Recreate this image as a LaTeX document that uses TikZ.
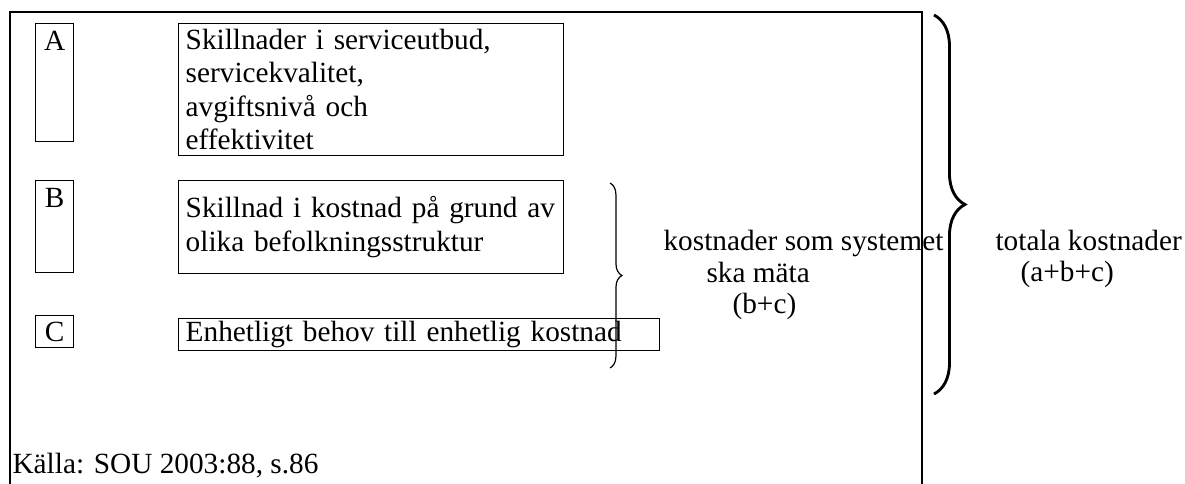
\documentclass[tikz,border=0pt]{standalone}
\usepackage{fontspec}
\setmainfont{Liberation Serif}
\usetikzlibrary{decorations.pathreplacing}
\tikzset{
  txt/.style={font=\fontsize{12.3pt}{14pt}\selectfont, inner sep=0pt},
  letterbox/.style={txt, draw, anchor=north west, minimum width=16pt, text height=11.5pt},
  textbox/.style={txt, draw, anchor=north west, align=left, inner xsep=3pt, inner ysep=1pt},
}
\begin{document}
\begin{tikzpicture}[x=0.42pt, y=-0.42pt, line width=0.5pt]
\useasboundingbox (0,0) rectangle (1185,484);
\draw(10,484)--(10,12)--(922,12)--(922,484);
\node[letterbox, text depth=38pt](a) at (35,23){A};
\node[letterbox, text depth=27pt](b) at (35,180){B};
\node[letterbox, text depth=2.5pt, text height=11pt](c) at (35,315){C};
\node[textbox, text width=155.7pt, minimum height=55.4pt](ta) at (178,23)
  {Skillnader i serviceutbud,\\servicekvalitet,\\avgiftsnivå och\\effektivitet};
\node[textbox, text width=155.7pt, minimum height=39pt](tb) at (178,180)
  {Skillnad i kostnad på grund av\\olika befolkningsstruktur};
\node[textbox, text width=196pt, minimum height=13.4pt](tc) at (178,318)
  {Enhetligt behov till enhetlig kostnad};
\coordinate (s1) at (610,183);
\coordinate (s2) at (610,368);
\draw[decorate, decoration={brace, amplitude=5pt}](s1)--(s2);
\node[txt, anchor=base west](m1) at (663,250){kostnader som systemet};
\node[txt, anchor=base west](m2) at (706,282){ska mäta};
\node[txt, anchor=base west](m3) at (732,313){(b+c)};
\coordinate (t1) at (934,15);
\coordinate (t2) at (934,394);
\draw[decorate, decoration={brace, amplitude=13pt}, line width=1.2pt](t1)--(t2);
\node[txt, anchor=base west](s) at (995,250){totala kostnader};
\node[txt, anchor=base west](sa) at (1020,281){(a+b+c)};
\node[txt, anchor=base west](k) at (12,473){Källa: SOU 2003:88, s.86};
\end{tikzpicture}
\end{document}
